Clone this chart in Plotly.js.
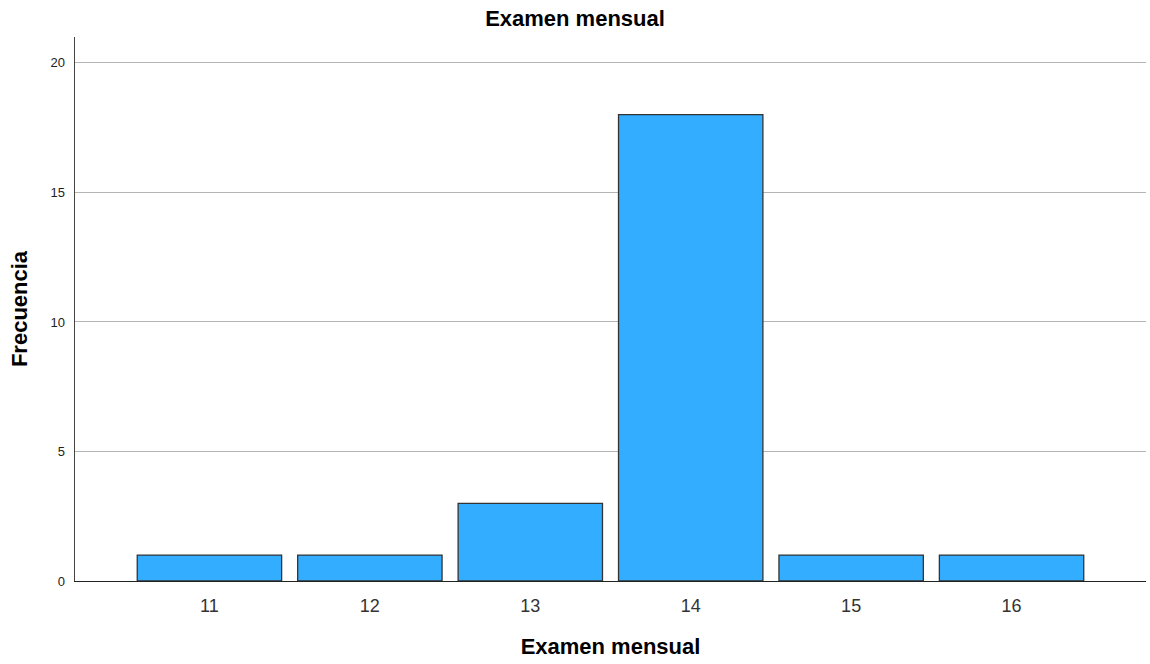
<!DOCTYPE html>
<html>
<head>
<meta charset="utf-8">
<script src="https://cdn.plot.ly/plotly-3.0.1.min.js"></script>
<style>html,body{margin:0;padding:0;background:#fff;}#chart{width:1150px;height:664px;}</style>
</head>
<body>
<div id="chart"></div>
<script>
var categories = [11, 12, 13, 14, 15, 16];
var frecuencia = [1, 1, 3, 18, 1, 1];
var yTicks = [0, 5, 10, 15, 20];

var trace = {
  type: 'bar',
  x: categories,
  y: frecuencia,
  width: 0.9,
  marker: {color: '#33adff', line: {color: '#333333', width: 1.3}},
  hoverinfo: 'x+y'
};

var layout = {
  width: 1150, height: 664,
  margin: {l: 75, r: 4, t: 37, b: 83},
  paper_bgcolor: '#ffffff', plot_bgcolor: '#ffffff',
  font: {family: 'Liberation Sans, Arial, sans-serif', color: '#222'},
  showlegend: false,
  title: {text: '<b>Examen mensual</b>', x: 0.5, xanchor: 'center', y: 0.972, yanchor: 'middle', yref: 'container',
          font: {size: 22, color: '#000', family: 'Liberation Sans, Arial, sans-serif'}},
  xaxis: {
    range: [10.162, 16.838], tickmode: 'array', tickvals: categories, ticktext: categories.map(String),
    showgrid: false, zeroline: false, showline: true, linecolor: '#222', linewidth: 1.3,
    ticks: '', tickfont: {size: 18, color: '#333'}, ticklabelstandoff: 8,
    title: {text: '<b>Examen mensual</b>', font: {size: 22, color: '#000'}, standoff: 23}
  },
  yaxis: {
    range: [0, 21], tickmode: 'array', tickvals: yTicks, ticktext: yTicks.map(String),
    showgrid: true, gridcolor: '#b5b5b5', gridwidth: 1, zeroline: false,
    showline: true, linecolor: '#444', linewidth: 1.5,
    ticks: '', tickfont: {size: 13, color: '#222'}, ticklabelstandoff: 6,
    title: {text: '<b>Frecuencia</b>', font: {size: 22, color: '#000'}, standoff: 16}
  },
  bargap: 0.1
};

Plotly.newPlot('chart', [trace], layout, {displayModeBar: false, staticPlot: true});
</script>
</body>
</html>
